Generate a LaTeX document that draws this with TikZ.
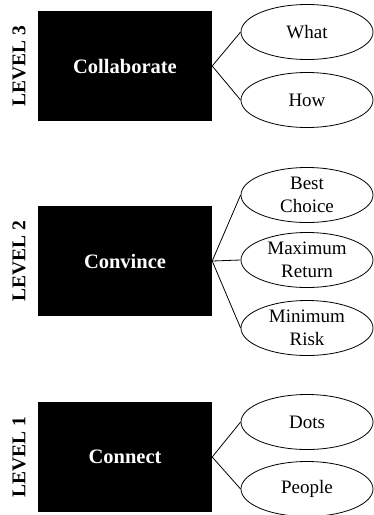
\documentclass[tikz,border=0pt]{standalone}
\usepackage{fontspec}
\setmainfont{Liberation Serif}
\usepackage{tikz}
\usetikzlibrary{shapes.geometric}
\tikzstyle{nivel} = [fill=black, text=white, rectangle, minimum width=174pt, minimum height=110pt, inner sep=0pt, font=\fontsize{20.5}{24}\selectfont\bfseries]
\tikzstyle{idea} = [draw=black, thick, ellipse, minimum width=132pt, minimum height=55pt, inner sep=0pt, align=center, font=\fontsize{19}{23}\selectfont]
\tikzstyle{etiqueta} = [rotate=90, inner sep=0pt, font=\fontsize{19.5}{22}\selectfont\bfseries]
\begin{document}
\begin{tikzpicture}[x=1pt, y=-1pt]
	\useasboundingbox (0,0) rectangle (373,515);
	% level 3
	\node[nivel](collab) at (125,66) {Collaborate};
	\node[etiqueta] (lv3) at (19,66) {LEVEL 3};
	\node[idea](what) at (307,32) {What};
	\node[idea](how) at (307,100) {How};
	\draw[thick] (what.west) -- (collab.east) -- (how.west);
	% level 2
	\node[nivel](convince) at (125,261) {Convince};
	\node[etiqueta] (lv2) at (19,261) {LEVEL 2};
	\node[idea](best) at (307,195) {Best\\Choice};
	\node[idea](maxret) at (307,260) {Maximum\\Return};
	\node[idea](minrisk) at (307,328) {Minimum\\Risk};
	\draw[thick] (best.west) -- (convince.east) -- (minrisk.west);
	\draw[thick] (convince.east) -- (maxret.west);
	% level 1
	\node[nivel](connect) at (125,457) {Connect};
	\node[etiqueta] (lv1) at (19,457) {LEVEL 1};
	\node[idea](dots) at (307,422) {Dots};
	\node[idea](people) at (307,489) {People};
	\draw[thick] (dots.west) -- (connect.east) -- (people.west);
\end{tikzpicture}
\end{document}
